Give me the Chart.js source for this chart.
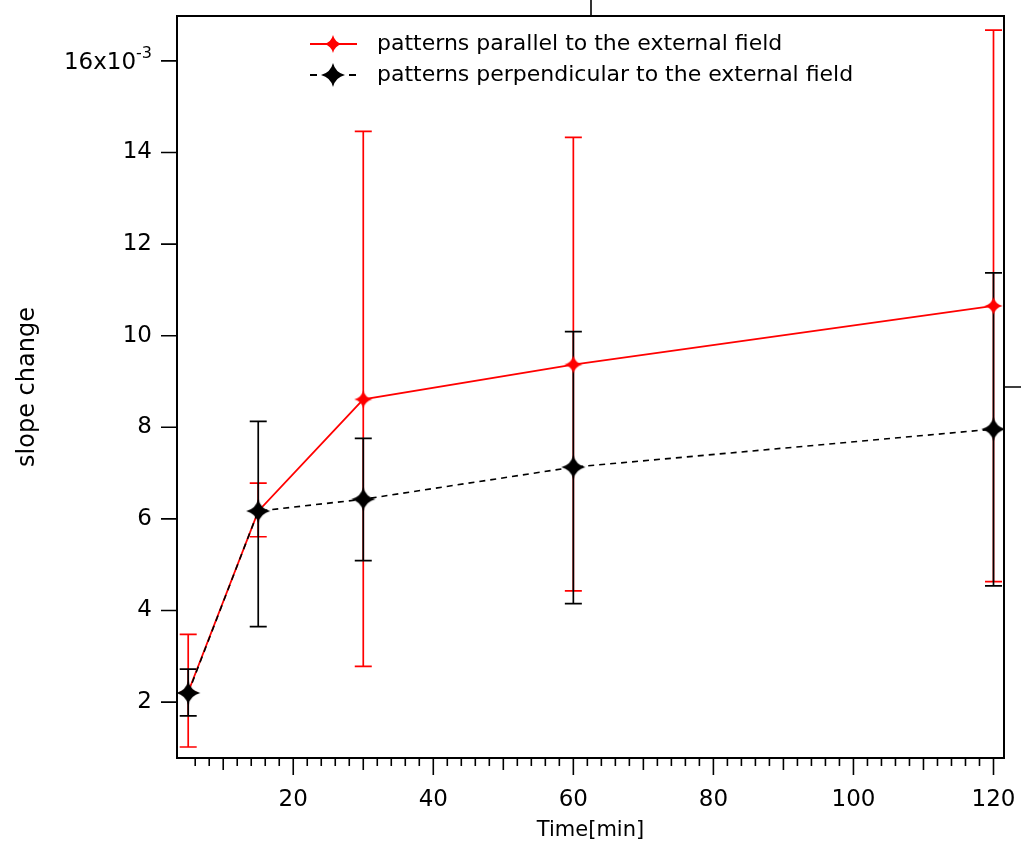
<!DOCTYPE html>
<html>
<head>
<meta charset="utf-8">
<script src="https://cdn.jsdelivr.net/npm/chart.js@4.4.1/dist/chart.umd.min.js"></script>
<style>
  html, body { margin: 0; padding: 0; background: #fff; }
  #caja { width: 1021px; height: 848px; }
</style>
</head>
<body>
<div id="caja"><canvas id="grafica"></canvas></div>
<script>
// datos (eje y en unidades de 1e-3)
const tiempos = [5, 15, 30, 60, 120];
const paralelo = [2.22, 6.17, 8.61, 9.37, 10.65];
const paraleloMin = [1.02, 5.61, 2.78, 4.43, 4.63];
const paraleloMax = [3.48, 6.78, 14.46, 14.33, 16.67];
const perpendicular = [2.2, 6.17, 6.43, 7.13, 7.96];
const perpMin = [1.7, 3.65, 5.09, 4.15, 4.54];
const perpMax = [2.72, 8.13, 7.76, 10.09, 11.37];
const etiquetas = ['patterns parallel to the external field', 'patterns perpendicular to the external field'];

const FUENTE = 'DejaVu Sans';
Chart.defaults.font.family = FUENTE;
Chart.defaults.color = '#000';

// marcador de estrella de cuatro puntas
function estrella(r, color) {
  const c = document.createElement('canvas');
  c.width = c.height = 2 * r + 2;
  const g = c.getContext('2d');
  const k = r * 0.2;
  g.translate(r + 1, r + 1);
  g.beginPath();
  g.moveTo(0, -r);
  g.quadraticCurveTo(k, -k, r, 0);
  g.quadraticCurveTo(k, k, 0, r);
  g.quadraticCurveTo(-k, k, -r, 0);
  g.quadraticCurveTo(-k, -k, 0, -r);
  g.closePath();
  g.fillStyle = color;
  g.fill();
  return c;
}
const estrellaRoja = estrella(9, '#ff0000');
const estrellaNegra = estrella(12, '#000000');

function puntos(ys) {
  return tiempos.map((t, i) => ({ x: t, y: ys[i] }));
}

function barrasError(ctx, xs, ys, bajos, altos, color) {
  ctx.save();
  ctx.strokeStyle = color;
  ctx.lineWidth = 1.7;
  for (let i = 0; i < tiempos.length; i++) {
    const px = xs.getPixelForValue(tiempos[i]);
    const y1 = ys.getPixelForValue(bajos[i]);
    const y2 = ys.getPixelForValue(altos[i]);
    ctx.beginPath();
    ctx.moveTo(px, y1); ctx.lineTo(px, y2);
    ctx.moveTo(px - 8.5, y1); ctx.lineTo(px + 8.5, y1);
    ctx.moveTo(px - 8.5, y2); ctx.lineTo(px + 8.5, y2);
    ctx.stroke();
  }
  ctx.restore();
}

// sin relleno extra de las escalas
function ajustar(ancho, alto) {
  return s => {
    if (ancho) s.width = ancho;
    if (alto) s.height = alto;
    s.paddingTop = 0; s.paddingBottom = 0;
    s.paddingLeft = 0; s.paddingRight = 0;
  };
}

const adornos = {
  id: 'adornos',
  beforeDatasetsDraw(chart) {
    const { ctx, scales: { x, y } } = chart;
    barrasError(ctx, x, y, paraleloMin, paraleloMax, '#ff0000');
    barrasError(ctx, x, y, perpMin, perpMax, '#000000');
  },
  afterDraw(chart) {
    const { ctx, chartArea: a, scales: { x, y } } = chart;
    ctx.save();
    ctx.strokeStyle = '#000';
    ctx.lineWidth = 2;
    ctx.strokeRect(a.left, a.top, a.right - a.left, a.bottom - a.top);

    ctx.lineWidth = 1.6;
    ctx.beginPath();
    // marcas del eje x
    x.ticks.forEach(t => {
      if (t.value < 5 || t.value > x.max) return;
      const px = x.getPixelForValue(t.value);
      const largo = t.value % 20 === 0 ? 17 : (t.value % 10 === 0 ? 12 : 8);
      ctx.moveTo(px, a.bottom); ctx.lineTo(px, a.bottom + largo);
    });
    // marcas del eje y
    y.ticks.forEach(t => {
      if (t.value < y.min || t.value > y.max) return;
      const py = y.getPixelForValue(t.value);
      ctx.moveTo(a.left - 16, py); ctx.lineTo(a.left, py);
    });
    // restos de otros paneles
    ctx.moveTo(591, 0); ctx.lineTo(591, a.top);
    ctx.moveTo(a.right, 387); ctx.lineTo(chart.width, 387);
    ctx.stroke();

    // etiqueta 16x10^-3
    const p16 = y.getPixelForValue(16);
    ctx.fillStyle = '#000';
    ctx.textAlign = 'right';
    ctx.textBaseline = 'alphabetic';
    ctx.font = '16px "' + FUENTE + '"';
    const ancho = ctx.measureText('-3').width;
    ctx.fillText('-3', a.left - 25, p16 - 3);
    ctx.font = '23px "' + FUENTE + '"';
    ctx.fillText('16x10', a.left - 25 - ancho, p16 + 8.5);

    // leyenda
    const filas = [
      { yy: 44, color: '#ff0000', img: estrellaRoja, guion: false },
      { yy: 75, color: '#000000', img: estrellaNegra, guion: true }
    ];
    ctx.font = '22px "' + FUENTE + '"';
    ctx.textAlign = 'left';
    ctx.textBaseline = 'middle';
    filas.forEach((f, i) => {
      ctx.strokeStyle = f.color;
      ctx.lineWidth = 1.8;
      ctx.beginPath();
      if (f.guion) {
        ctx.moveTo(310, f.yy); ctx.lineTo(317, f.yy);
        ctx.moveTo(349, f.yy); ctx.lineTo(356, f.yy);
      } else {
        ctx.moveTo(310, f.yy); ctx.lineTo(357, f.yy);
      }
      ctx.stroke();
      ctx.drawImage(f.img, 333 - f.img.width / 2, f.yy - f.img.height / 2);
      ctx.fillStyle = '#000';
      ctx.fillText(etiquetas[i], 377, f.yy);
    });
    ctx.restore();
  }
};

new Chart(document.getElementById('grafica'), {
  type: 'line',
  data: {
    datasets: [
      {
        label: etiquetas[0],
        data: puntos(paralelo),
        borderColor: '#ff0000',
        borderWidth: 1.8,
        pointStyle: estrellaRoja,
        pointRadius: 9,
        tension: 0,
        fill: false,
        order: 1
      },
      {
        label: etiquetas[1],
        data: puntos(perpendicular),
        borderColor: '#000000',
        borderWidth: 1.6,
        borderDash: [6, 5],
        pointStyle: estrellaNegra,
        pointRadius: 12,
        tension: 0,
        fill: false,
        order: 0
      }
    ]
  },
  options: {
    responsive: true,
    maintainAspectRatio: false,
    animation: false,
    layout: { padding: { top: 16, right: 17, left: 0, bottom: 0 } },
    scales: {
      x: {
        type: 'linear',
        min: 3.4,
        max: 121.5,
        afterFit: ajustar(0, 90),
        grid: { display: false, drawTicks: false },
        border: { display: false },
        ticks: {
          stepSize: 2,
          includeBounds: false,
          autoSkip: false,
          maxRotation: 0,
          padding: 28,
          font: { size: 23 },
          callback: v => (v % 20 === 0 ? v : '')
        },
        title: {
          display: true,
          text: 'Time[min]',
          font: { size: 21 },
          padding: { top: 0, bottom: 5 }
        }
      },
      y: {
        min: 0.78,
        max: 16.98,
        afterFit: ajustar(177, 0),
        grid: { display: false, drawTicks: false },
        border: { display: false },
        ticks: {
          stepSize: 2,
          includeBounds: false,
          padding: 25,
          font: { size: 23 },
          callback: v => (v === 16 ? '' : v)
        },
        title: {
          display: true,
          text: 'slope change',
          font: { size: 24 },
          padding: { top: 13, bottom: 0 }
        }
      }
    },
    plugins: {
      legend: { display: false },
      tooltip: { enabled: false }
    }
  },
  plugins: [adornos]
});
</script>
</body>
</html>
